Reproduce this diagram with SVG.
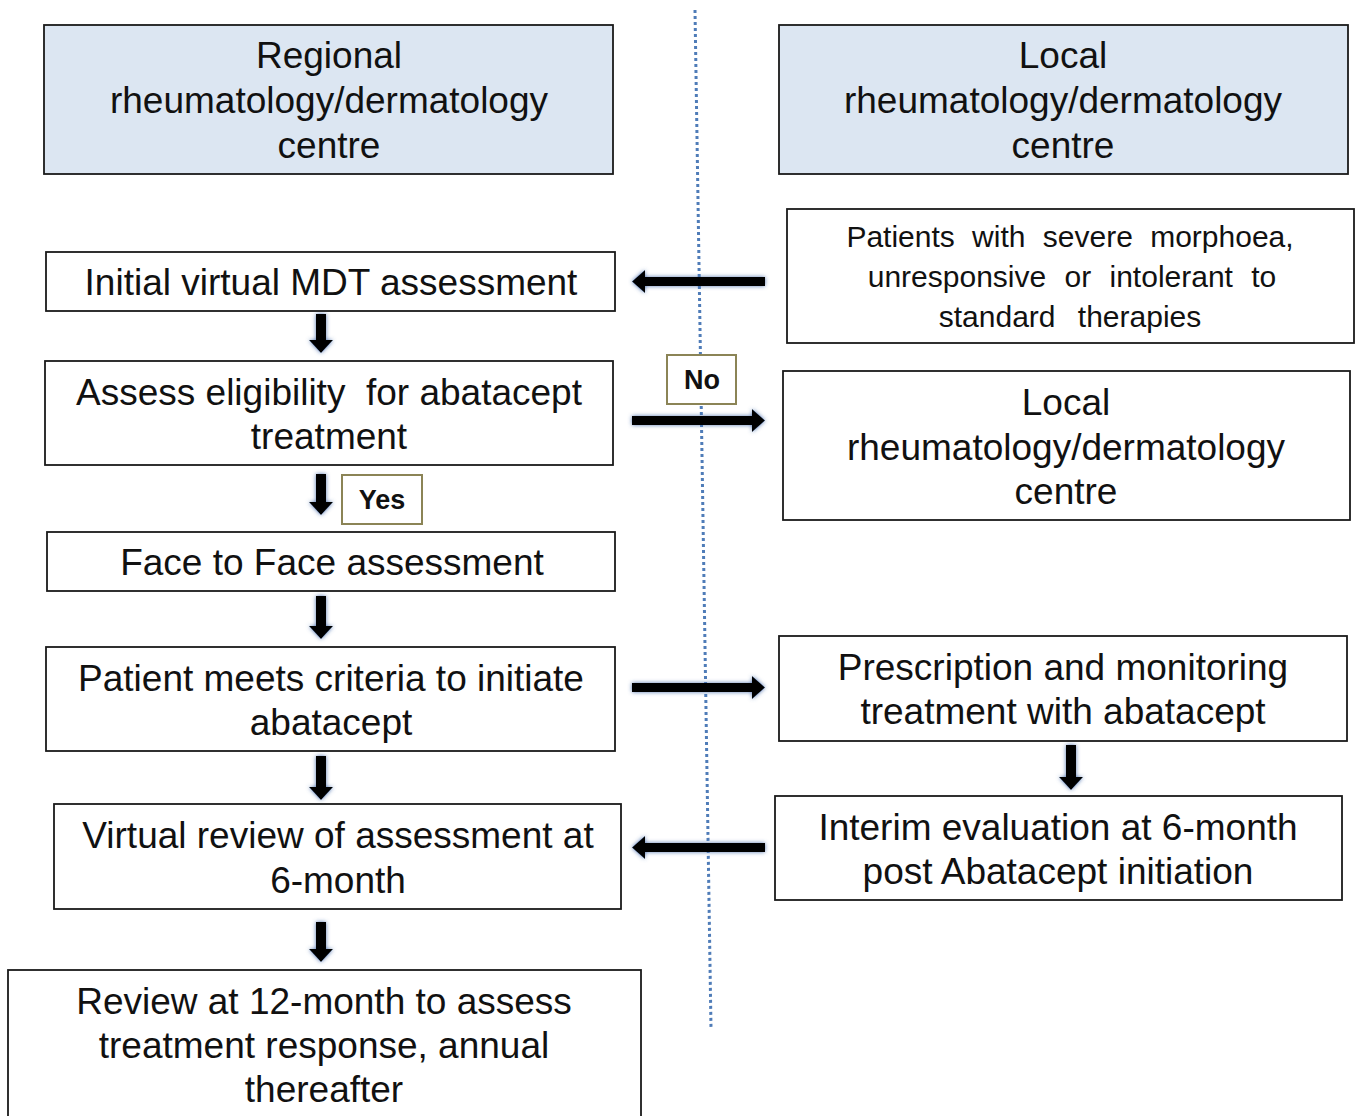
<svg xmlns="http://www.w3.org/2000/svg" width="1355" height="1116" viewBox="0 0 1355 1116">
<defs>
<style>
.box{fill:#ffffff;stroke:#1a1a1a;stroke-width:1.8}
.hdr{fill:#dce6f2;stroke:#1a1a1a;stroke-width:1.8}
.lbl{fill:#ffffff;stroke:#8b8456;stroke-width:2}
.t{font-family:"Liberation Sans",Arial,sans-serif;font-size:37px;fill:#111111;text-anchor:middle}
.ts{font-family:"Liberation Sans",Arial,sans-serif;font-size:30px;fill:#111111;text-anchor:middle}
.tb{font-family:"Liberation Sans",Arial,sans-serif;font-size:27px;font-weight:bold;fill:#111111;text-anchor:middle}
.arr{fill:#050505;filter:url(#glow)}
</style>
<filter id="glow" x="-30%" y="-60%" width="160%" height="220%">
<feGaussianBlur in="SourceAlpha" stdDeviation="2.2" result="b"/>
<feFlood flood-color="#3f66a8" flood-opacity="0.9"/>
<feComposite in2="b" operator="in" result="g"/>
<feMerge><feMergeNode in="g"/><feMergeNode in="SourceGraphic"/></feMerge>
</filter>
</defs>
<rect width="1355" height="1116" fill="#ffffff"/>

<g id="connectors">
<line x1="695" y1="10" x2="711" y2="1028" stroke="#4f7cb8" stroke-width="3" stroke-dasharray="3,3"/>
<polygon class="arr" points="316,314 326,314 326,340 333,340 321,353 309,340 316,340"/>
<polygon class="arr" points="316,474 326,474 326,502 333,502 321,515 309,502 316,502"/>
<polygon class="arr" points="316,596 326,596 326,626 333,626 321,639 309,626 316,626"/>
<polygon class="arr" points="316,756 326,756 326,787 333,787 321,800 309,787 316,787"/>
<polygon class="arr" points="316,922 326,922 326,949 333,949 321,962 309,949 316,949"/>
<polygon class="arr" points="1066,745 1076,745 1076,777 1083,777 1071,790 1059,777 1066,777"/>
<polygon class="arr" points="765,277 645,277 645,270 632,281.5 645,293 645,286 765,286"/>
<polygon class="arr" points="632,416 752,416 752,409 765,420.5 752,432 752,425 632,425"/>
<polygon class="arr" points="632,683 752,683 752,676 765,687.5 752,699 752,692 632,692"/>
<polygon class="arr" points="765,843 645,843 645,836 632,847.5 645,859 645,852 765,852"/>
</g>

<g id="regional-header">
<rect class="hdr" x="44" y="25" width="569" height="149"/>
<text class="t" x="329" y="68">Regional</text>
<text class="t" x="329" y="113">rheumatology/dermatology</text>
<text class="t" x="329" y="158">centre</text>
</g>

<g id="local-header">
<rect class="hdr" x="779" y="25" width="569" height="149"/>
<text class="t" x="1063" y="68">Local</text>
<text class="t" x="1063" y="113">rheumatology/dermatology</text>
<text class="t" x="1063" y="158">centre</text>
</g>

<g id="initial-mdt">
<rect class="box" x="46" y="252" width="569" height="59"/>
<text class="t" x="331" y="295">Initial virtual MDT assessment</text>
</g>

<g id="patients-severe">
<rect class="box" x="787" y="209" width="567" height="134"/>
<text class="ts" x="1070" y="247" word-spacing="9">Patients with severe morphoea,</text>
<text class="ts" x="1072" y="287" word-spacing="10">unresponsive or intolerant to</text>
<text class="ts" x="1070" y="327" word-spacing="14">standard therapies</text>
</g>

<g id="assess-eligibility">
<rect class="box" x="45" y="361" width="568" height="104"/>
<text class="t" x="329" y="405" xml:space="preserve">Assess eligibility  for abatacept</text>
<text class="t" x="329" y="449">treatment</text>
</g>

<g id="no-label">
<rect class="lbl" x="667" y="355" width="69" height="49"/>
<text class="tb" x="702" y="389">No</text>
</g>

<g id="local-centre">
<rect class="box" x="783" y="371" width="567" height="149"/>
<text class="t" x="1066" y="415">Local</text>
<text class="t" x="1066" y="460">rheumatology/dermatology</text>
<text class="t" x="1066" y="504">centre</text>
</g>

<g id="yes-label">
<rect class="lbl" x="342" y="475" width="80" height="49"/>
<text class="tb" x="382" y="509">Yes</text>
</g>

<g id="face-to-face">
<rect class="box" x="47" y="532" width="568" height="59"/>
<text class="t" x="332" y="575">Face to Face assessment</text>
</g>

<g id="patient-meets">
<rect class="box" x="46" y="647" width="569" height="104"/>
<text class="t" x="331" y="691">Patient meets criteria to initiate</text>
<text class="t" x="331" y="735">abatacept</text>
</g>

<g id="prescription">
<rect class="box" x="779" y="636" width="568" height="105"/>
<text class="t" x="1063" y="680">Prescription and monitoring</text>
<text class="t" x="1063" y="724">treatment with abatacept</text>
</g>

<g id="interim">
<rect class="box" x="775" y="796" width="567" height="104"/>
<text class="t" x="1058" y="840">Interim evaluation at 6-month</text>
<text class="t" x="1058" y="884">post Abatacept initiation</text>
</g>

<g id="virtual-review">
<rect class="box" x="54" y="804" width="567" height="105"/>
<text class="t" x="338" y="848">Virtual review of assessment at</text>
<text class="t" x="338" y="893">6-month</text>
</g>

<g id="review-12">
<rect class="box" x="8" y="970" width="633" height="160"/>
<text class="t" x="324" y="1014">Review at 12-month to assess</text>
<text class="t" x="324" y="1058">treatment response, annual</text>
<text class="t" x="324" y="1102">thereafter</text>
</g>
</svg>
